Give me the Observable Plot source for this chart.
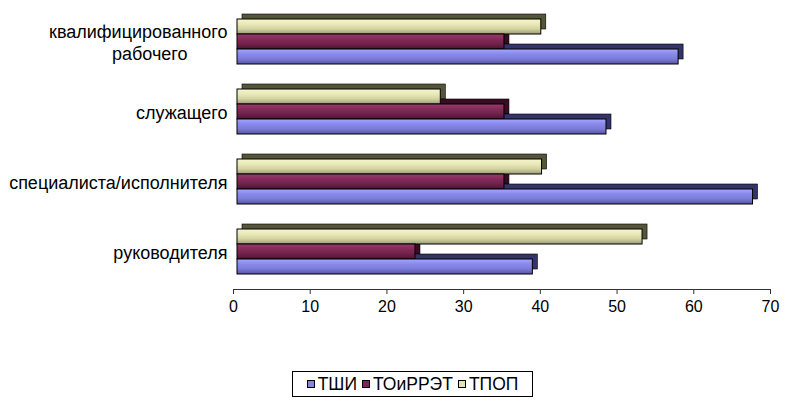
<!DOCTYPE html>
<html>
<head>
<meta charset="utf-8">
<script src="https://cdn.jsdelivr.net/npm/d3@7"></script>
<script src="https://cdn.jsdelivr.net/npm/@observablehq/plot@0.6"></script>
<style>
  body { margin: 0; background: #fff; font-family: "Liberation Sans", Arial, sans-serif; }
  #chart { width: 811px; height: 400px; position: relative; overflow: hidden; }
  .legend { position: absolute; left: 292px; top: 371px; width: 241px; height: 26px; border: 1px solid #000;
            display: flex; align-items: center; justify-content: center; gap: 5px; font-size: 17.5px; color: #000; box-sizing: border-box; }
  .legend span.sw { display: inline-block; width: 8px; height: 8px; border: 1px solid #000; margin-right: 3px; box-sizing: border-box; }
  .legend .item { display: flex; align-items: center; }
</style>
</head>
<body>
<div id="chart"></div>
<script>
const categories = ["квалифицированного рабочего", "служащего", "специалиста/исполнителя", "руководителя"];
const seriesNames = ["ТПОП", "ТОиРРЭТ", "ТШИ"]; // top to bottom within each group
const tshi = [57.5, 48.1, 67.2, 38.5];
const toirret = [34.8, 34.8, 34.8, 23.2];
const tpop = [39.6, 26.5, 39.7, 52.8];
const xTicks = [0, 10, 20, 30, 40, 50, 60, 70];
const legendOrder = ["ТШИ", "ТОиРРЭТ", "ТПОП"];

const valuesBySeries = {"ТШИ": tshi, "ТОиРРЭТ": toirret, "ТПОП": tpop};
const data = [];
categories.forEach((c, i) => {
  seriesNames.forEach(s => data.push({category: c, series: s, value: valuesBySeries[s][i]}));
});

const frontFill = {"ТШИ": "url(#gTSHI)", "ТОиРРЭТ": "url(#gTOIR)", "ТПОП": "url(#gTPOP)"};
const sideFill = {"ТШИ": "#34346a", "ТОиРРЭТ": "#3a0c24", "ТПОП": "#55553a"};
const swatch = {"ТШИ": "#8585e0", "ТОиРРЭТ": "#7d2752", "ТПОП": "#e2e2b0"};

const marks = [];
for (const s of seriesNames) {
  marks.push(Plot.barX(data.filter(d => d.series === s), {
    x: "value", y: "series", fy: "category", fill: sideFill[s], dx: 9, dy: -5, inset: 0,
    stroke: "#000", strokeWidth: 0.6
  }));
}
for (const s of seriesNames) {
  marks.push(Plot.barX(data.filter(d => d.series === s), {
    x: "value", y: "series", fy: "category", fill: frontFill[s], dx: 4, inset: 0,
    stroke: "#000", strokeWidth: 1
  }));
}
marks.push(Plot.axisFy({
  anchor: "left", label: null, tickSize: 0, tickPadding: 6, fontSize: 18, lineHeight: 1.25, dy: -7,
  tickFormat: d => d === "квалифицированного рабочего" ? "квалифицированного\nрабочего\u00a0\u00a0\u00a0\u00a0\u00a0\u00a0\u00a0\u00a0" : d
}));
marks.push(Plot.frame({anchor: "bottom", facetAnchor: "bottom", stroke: "#333", strokeWidth: 1}));
marks.push(Plot.axisX({
  ticks: xTicks, tickSize: 5, tickPadding: 6, fontSize: 16, label: null, stroke: "#333"
}));

const chart = Plot.plot({
  width: 811,
  height: 340,
  marginLeft: 233,
  marginRight: 41,
  marginTop: 11,
  marginBottom: 44,
  style: {fontFamily: "'Liberation Sans', Arial, sans-serif", fontSize: "16px", color: "#000", background: "#fff"},
  x: {domain: [0, 70], label: null},
  y: {domain: seriesNames, axis: null, padding: 0, insetBottom: 14},
  fy: {domain: categories, axis: null, label: null, paddingInner: 0.1286, paddingOuter: 0.1},
  marks
});

const defs = d3.select(chart).insert("defs", ":first-child");
const grads = {
  gTSHI: ["#a4a4ff", "#8888ec", "#7c7cd8", "#5656a0"],
  gTOIR: ["#9a3a6a", "#832b58", "#70224a", "#4c1430"],
  gTPOP: ["#f6f6cc", "#e8e8b8", "#d4d4a2", "#9c9c78"]
};
for (const [id, cols] of Object.entries(grads)) {
  const g = defs.append("linearGradient").attr("id", id).attr("x1", 0).attr("y1", 0).attr("x2", 0).attr("y2", 1);
  [0, 0.35, 0.65, 1].forEach((o, i) => g.append("stop").attr("offset", o).attr("stop-color", cols[i]));
}

const root = document.getElementById("chart");
root.appendChild(chart);
const legend = document.createElement("div");
legend.className = "legend";
for (const s of legendOrder) {
  const item = document.createElement("div");
  item.className = "item";
  const sw = document.createElement("span");
  sw.className = "sw";
  sw.style.background = swatch[s];
  item.appendChild(sw);
  item.appendChild(document.createTextNode(s));
  legend.appendChild(item);
}
root.appendChild(legend);
</script>
</body>
</html>
